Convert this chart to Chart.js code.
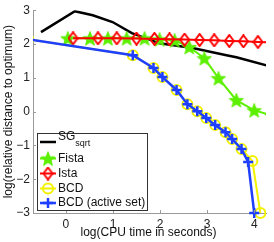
<!DOCTYPE html>
<html>
<head>
<meta charset="utf-8">
<script src="https://cdn.jsdelivr.net/npm/chart.js@4.4.1/dist/chart.umd.min.js"></script>
<style>
html,body{margin:0;padding:0;background:#fff;}
#wrap{width:274px;height:242px;position:relative;}
</style>
</head>
<body>
<div id="wrap"><canvas id="c" width="274" height="242"></canvas></div>
<script>
// ---- data (log10 CPU time, log10 relative distance) ----
const xTicks = [0, 1, 2, 3, 4];
const yTicks = [-3, -2, -1, 0, 1, 2, 3];
const seriesNames = ['SG', 'Fista', 'Ista', 'BCD', 'BCD (active set)'];
const xTitle = 'log(CPU time in seconds)';
const yTitle = 'log(relative distance to optimum)';

const sgX = [-0.53, 0.19, 0.57, 0.99, 1.40, 1.99, 2.69, 3.41, 3.62, 4.30];
const sgY = [2.35, 2.97, 2.85, 2.65, 2.32, 2.02, 1.88, 1.67, 1.61, 1.35];

const fistaX = [0.04, 0.51, 0.89, 1.29, 1.67, 1.99, 2.31, 2.62, 2.94, 3.24, 3.62, 4.00, 4.38];
const fistaY = [2.17, 2.17, 2.17, 2.17, 2.17, 2.14, 2.11, 1.91, 1.58, 0.99, 0.34, 0.04, -0.12];

const istaX = [0.15, 0.68, 1.08, 1.50, 1.88, 2.20, 2.52, 2.84, 3.15, 3.47, 3.77, 4.08, 4.40];
const istaY = [2.17, 2.17, 2.17, 2.16, 2.15, 2.14, 2.13, 2.12, 2.11, 2.09, 2.08, 2.06, 2.04];

const bcdX = [-0.80, 1.42, 1.86, 2.05, 2.35, 2.58, 2.79, 2.98, 3.17, 3.39, 3.53, 3.73, 3.96, 4.13];
const bcdY = [2.14, 1.67, 1.29, 1.02, 0.64, 0.22, 0.01, -0.19, -0.40, -0.61, -0.81, -1.11, -1.46, -3.00];

const bcdaX = [-0.80, 1.42, 1.86, 2.05, 2.35, 2.58, 2.79, 2.98, 3.17, 3.39, 3.53, 3.73, 3.87, 4.00];
const bcdaY = [2.14, 1.67, 1.29, 1.02, 0.64, 0.22, 0.01, -0.19, -0.40, -0.61, -0.81, -1.11, -1.49, -3.00];

const pts = (xs, ys) => xs.map((x, i) => ({x: x, y: ys[i]}));

// ---- custom markers ----
function starImg(color, size) {
  const c = document.createElement('canvas');
  c.width = size; c.height = size;
  const g = c.getContext('2d');
  const cx = size / 2, cy = size / 2, R = size / 2 - 0.5, r = R * 0.42;
  g.beginPath();
  for (let i = 0; i < 10; i++) {
    const a = -Math.PI / 2 + i * Math.PI / 5;
    const rr = i % 2 === 0 ? R : r;
    const px = cx + rr * Math.cos(a), py = cy + rr * Math.sin(a) + 0.8;
    if (i === 0) g.moveTo(px, py); else g.lineTo(px, py);
  }
  g.closePath();
  g.fillStyle = color; g.fill();
  g.strokeStyle = color; g.lineWidth = 1; g.stroke();
  return c;
}
function diamondImg(color, w, h) {
  const c = document.createElement('canvas');
  c.width = w; c.height = h;
  const g = c.getContext('2d');
  g.beginPath();
  g.moveTo(w / 2, 1); g.lineTo(w - 1, h / 2); g.lineTo(w / 2, h - 1); g.lineTo(1, h / 2);
  g.closePath();
  g.strokeStyle = color; g.lineWidth = 2; g.stroke();
  return c;
}

const GREEN = '#5cf000', RED = '#ff0000', YELLOW = '#f2f200', BLUE = '#1f3fff', BLACK = '#000000';
const star = starImg(GREEN, 16);
const diamond = diamondImg(RED, 11, 14);

const AXIS_GREY = '#9a9a9a';
const FONT = '"Liberation Sans", Arial, sans-serif';
const clipData = {left: 0, top: 0, right: 0, bottom: false};

// inward tick marks + x axis title
const tickPlugin = {
  id: 'inTicks',
  afterDraw(chart) {
    const ctx = chart.ctx, a = chart.chartArea;
    const xs = chart.scales.x, ys = chart.scales.y;
    ctx.save();
    ctx.strokeStyle = AXIS_GREY; ctx.lineWidth = 1;
    ctx.beginPath();
    xTicks.forEach(v => { const p = Math.round(xs.getPixelForValue(v)) + 0.5; ctx.moveTo(p, a.bottom); ctx.lineTo(p, a.bottom - 3); });
    yTicks.forEach(v => { const p = Math.round(ys.getPixelForValue(v)) + 0.5; ctx.moveTo(a.left, p); ctx.lineTo(a.left + 3, p); });
    ctx.stroke();
    ctx.fillStyle = '#111';
    ctx.font = '12px ' + FONT;
    ctx.textAlign = 'center';
    ctx.textBaseline = 'alphabetic';
    ctx.fillText(xTitle, (a.left + a.right) / 2 - 1, 236);
    ctx.restore();
  }
};

// legend box inside the plot area
const legendPlugin = {
  id: 'boxLegend',
  afterDraw(chart) {
    const ctx = chart.ctx;
    const bx = 37.5, by = 133.5, bw = 110, bh = 77;
    ctx.save();
    ctx.fillStyle = '#ffffff';
    ctx.fillRect(bx, by, bw, bh);
    ctx.strokeStyle = '#333'; ctx.lineWidth = 1;
    ctx.strokeRect(bx, by, bw, bh);
    const rowsY = [142, 158.5, 173.5, 188.5, 203];
    const ds = chart.data.datasets;
    ctx.font = '12px ' + FONT;
    ctx.textBaseline = 'middle';
    ds.forEach((d, i) => {
      const y = rowsY[i];
      ctx.strokeStyle = d.borderColor; ctx.lineWidth = d.borderWidth;
      ctx.beginPath(); ctx.moveTo(40, y); ctx.lineTo(56, y); ctx.stroke();
      if (d.pointRadius > 0) {
        ctx.strokeStyle = d.pointBorderColor; ctx.fillStyle = d.pointBackgroundColor;
        ctx.lineWidth = d.pointBorderWidth;
        Chart.helpers.drawPoint(ctx, {pointStyle: d.pointStyle, radius: d.pointRadius, borderWidth: d.pointBorderWidth, rotation: 0}, 48, y);
      }
      ctx.fillStyle = '#111';
      if (i === 0) {
        ctx.fillText(seriesNames[0], 58, y - 5);
        const w = ctx.measureText(seriesNames[0]).width;
        ctx.font = '9px ' + FONT;
        ctx.fillText('sqrt', 58 + w, y + 2);
        ctx.font = '12px ' + FONT;
      } else {
        ctx.fillText(seriesNames[i], 58, y);
      }
    });
    ctx.restore();
  }
};

const fontTick = {family: FONT, size: 12};

new Chart(document.getElementById('c'), {
  type: 'line',
  data: {
    datasets: [
      {label: 'SGsqrt', data: pts(sgX, sgY), borderColor: BLACK, borderWidth: 2.5, pointRadius: 0,
       pointBorderColor: BLACK, pointBackgroundColor: BLACK, pointBorderWidth: 0, clip: 0, order: 5, tension: 0},
      {label: 'Fista', data: pts(fistaX, fistaY), borderColor: GREEN, borderWidth: 2, pointStyle: star, pointRadius: 7,
       pointBorderColor: GREEN, pointBackgroundColor: GREEN, pointBorderWidth: 1, clip: 0, order: 4, tension: 0},
      {label: 'Ista', data: pts(istaX, istaY), borderColor: RED, borderWidth: 2, pointStyle: diamond, pointRadius: 6,
       pointBorderColor: RED, pointBackgroundColor: 'rgba(0,0,0,0)', pointBorderWidth: 2, clip: 0, order: 3, tension: 0},
      {label: 'BCD', data: pts(bcdX, bcdY), borderColor: YELLOW, borderWidth: 2, pointStyle: 'circle', pointRadius: 5,
       pointBorderColor: YELLOW, pointBackgroundColor: 'rgba(0,0,0,0)', pointBorderWidth: 2, clip: clipData, order: 2, tension: 0},
      {label: 'BCD (active set)', data: pts(bcdaX, bcdaY), borderColor: BLUE, borderWidth: 2.5, pointStyle: 'cross', pointRadius: 5,
       pointBorderColor: BLUE, pointBackgroundColor: BLUE, pointBorderWidth: 2.5, clip: clipData, order: 1, tension: 0}
    ]
  },
  options: {
    responsive: false,
    animation: false,
    devicePixelRatio: 1,
    layout: {padding: {top: 10, right: 7, left: 0, bottom: 0}},
    plugins: {legend: {display: false}, tooltip: {enabled: false}},
    elements: {point: {hoverRadius: 0}},
    scales: {
      x: {
        type: 'linear', min: -0.7, max: 4.25,
        afterBuildTicks(s) { s.ticks = xTicks.map(v => ({value: v})); },
        afterFit(s) { s.height = 29; },
        grid: {drawOnChartArea: false, drawTicks: false},
        border: {color: AXIS_GREY, width: 1},
        ticks: {font: fontTick, color: '#222', padding: 4, maxRotation: 0,
                callback: v => String(v).replace('-', '\u2212')},
        title: {display: false}
      },
      y: {
        type: 'linear', min: -3, max: 3,
        afterBuildTicks(s) { s.ticks = yTicks.map(v => ({value: v})); },
        afterFit(s) { s.width = 33; },
        grid: {drawOnChartArea: false, drawTicks: false},
        border: {color: AXIS_GREY, width: 1},
        ticks: {font: fontTick, color: '#222', padding: 3,
                callback: v => String(v).replace('-', '\u2212')},
        title: {display: true, text: yTitle, font: fontTick, color: '#111', padding: {top: 1, bottom: 0}}
      }
    }
  },
  plugins: [tickPlugin, legendPlugin]
});
</script>
</body>
</html>
